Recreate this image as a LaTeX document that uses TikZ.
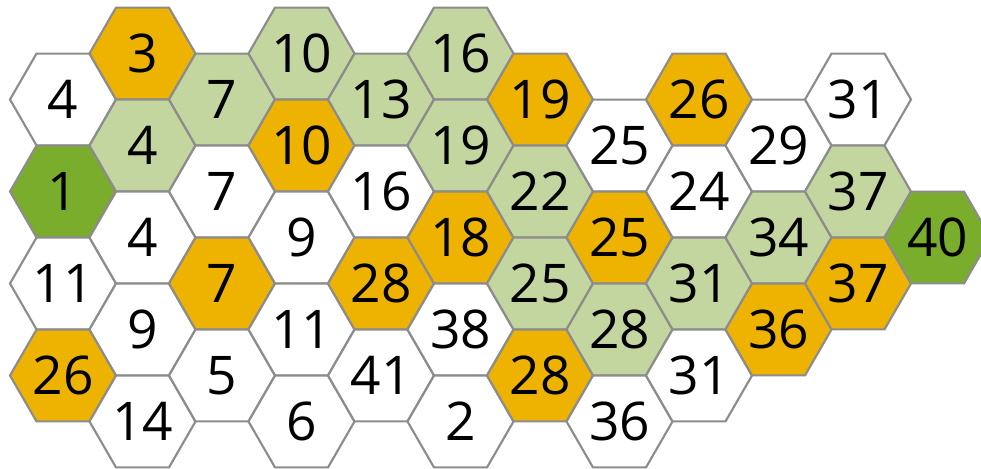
\documentclass[tikz,border=0pt]{standalone}
\usepackage{fontspec}
\setmainfont{Open Sans}
\usetikzlibrary{shapes.geometric}
\definecolor{hexorange}{HTML}{EDB300}
\definecolor{hexlight}{HTML}{C4D6A0}
\definecolor{hexdark}{HTML}{7BAD2C}
\definecolor{hexline}{HTML}{8C8C8C}
\tikzset{
  cell/.style={regular polygon, regular polygon sides=6,
    minimum size=79.5pt, inner sep=0pt, outer sep=0pt, draw=hexline, line width=1.6pt,
    font=\fontsize{40}{40}\selectfont},
  wcell/.style={cell, fill=white},
  ocell/.style={cell, fill=hexorange},
  lcell/.style={cell, fill=hexlight},
  dcell/.style={cell, fill=hexdark}
}
\begin{document}
\begin{tikzpicture}[x=0.75pt,y=-0.75pt]
	\useasboundingbox (0,0) rectangle (981,468);
	\clip (0,0) rectangle (981,468);
	% column / row index / number / colour
	\foreach \c/\k/\v/\s in {
		0/1/4/wcell, 0/3/1/dcell, 0/5/11/wcell, 0/7/26/ocell,
		1/0/3/ocell, 1/2/4/lcell, 1/4/4/wcell, 1/6/9/wcell, 1/8/14/wcell,
		2/1/7/lcell, 2/3/7/wcell, 2/5/7/ocell, 2/7/5/wcell,
		3/0/10/lcell, 3/2/10/ocell, 3/4/9/wcell, 3/6/11/wcell, 3/8/6/wcell,
		4/1/13/lcell, 4/3/16/wcell, 4/5/28/ocell, 4/7/41/wcell,
		5/0/16/lcell, 5/2/19/lcell, 5/4/18/ocell, 5/6/38/wcell, 5/8/2/wcell,
		6/1/19/ocell, 6/3/22/lcell, 6/5/25/lcell, 6/7/28/ocell,
		7/2/25/wcell, 7/4/25/ocell, 7/6/28/lcell, 7/8/36/wcell,
		8/1/26/ocell, 8/3/24/wcell, 8/5/31/lcell, 8/7/31/wcell,
		9/2/29/wcell, 9/4/34/lcell, 9/6/36/ocell,
		10/1/31/wcell, 10/3/37/lcell, 10/5/37/ocell,
		11/4/40/dcell}
		\node[\s] (h\c-\k) at ({63+79.5*\c},{53.5+46*\k}) {\v};
\end{tikzpicture}
\end{document}
